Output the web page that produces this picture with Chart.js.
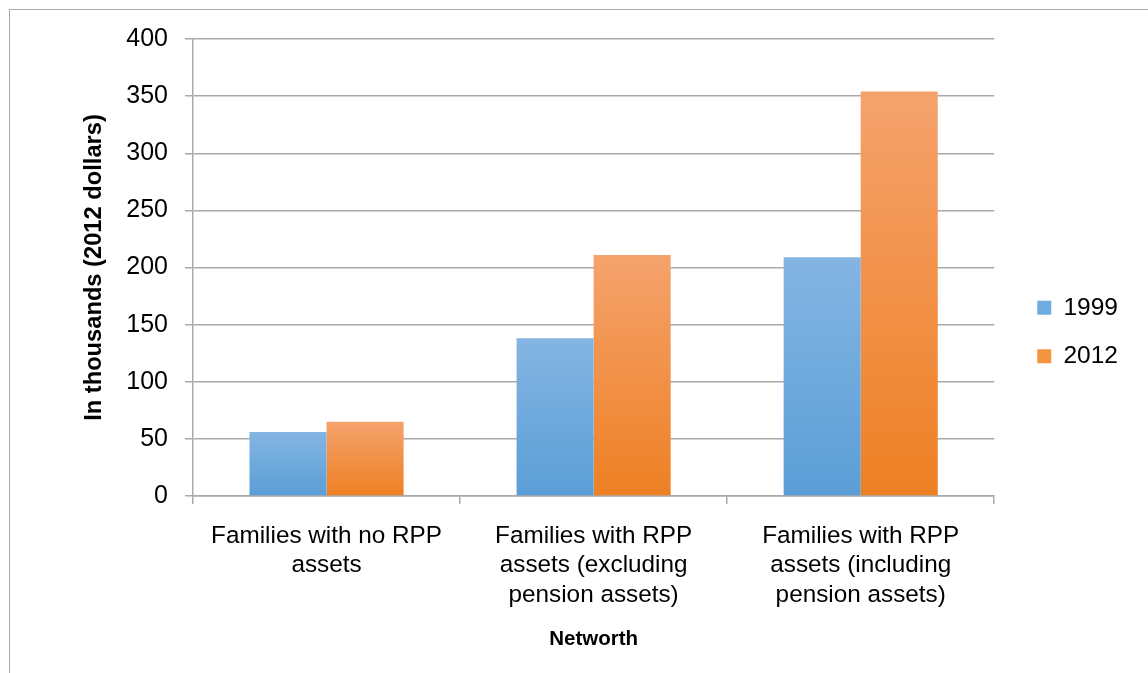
<!DOCTYPE html>
<html>
<head>
<meta charset="utf-8">
<script src="https://cdn.jsdelivr.net/npm/chart.js@4"></script>
<style>
  html, body { margin: 0; padding: 0; background: #fff; }
  #frame {
    position: absolute; left: 9px; top: 9px; width: 1400px; height: 900px;
    border-left: 1px solid #a9a9a9; border-top: 1px solid #a9a9a9;
  }
  #wrap { position: absolute; left: 0; top: 0; width: 1148px; height: 673px; }
</style>
</head>
<body>
<div id="frame"></div>
<div id="wrap"><canvas id="chart" width="1148" height="673"></canvas></div>
<script>
const categories = [
  ["Families with no RPP", "assets"],
  ["Families with RPP", "assets (excluding", "pension assets)"],
  ["Families with RPP", "assets (including", "pension assets)"]
];
const series1999 = [56, 138, 209];
const series2012 = [65, 211, 354];
const yTicks = [0, 50, 100, 150, 200, 250, 300, 350, 400];

const FONT = "'Liberation Sans', Arial, sans-serif";
const GRID = "#aaaaaa";

function barGradient(top, bottom) {
  return (ctx) => {
    const chart = ctx.chart;
    if (!chart.chartArea || ctx.type !== "data") return bottom;
    const y = chart.scales.y;
    const y0 = y.getPixelForValue(ctx.raw);
    const y1 = y.getPixelForValue(0);
    const g = chart.ctx.createLinearGradient(0, y0, 0, y1);
    g.addColorStop(0, top);
    g.addColorStop(1, bottom);
    return g;
  };
}

// nudge the legend into place after layout
const legendShift = {
  id: "legendShift",
  afterLayout(chart) {
    const lg = chart.legend;
    if (!lg) return;
    lg.left += 19; lg.right += 19;
    lg.top -= 24; lg.bottom -= 24;
  }
};

new Chart(document.getElementById("chart"), {
  type: "bar",
  data: {
    labels: categories,
    datasets: [
      {
        label: "1999",
        data: series1999,
        backgroundColor: barGradient("#84b5e3", "#5a9ed6"),
        borderWidth: 0
      },
      {
        label: "2012",
        data: series2012,
        backgroundColor: barGradient("#f5a26d", "#ee8023"),
        borderWidth: 0
      }
    ]
  },
  options: {
    responsive: false,
    animation: false,
    events: [],
    layout: { padding: { top: 39, right: 39, bottom: 0, left: 0 } },
    datasets: { bar: { categoryPercentage: 0.577, barPercentage: 1 } },
    plugins: {
      tooltip: { enabled: false },
      legend: {
        position: "right",
        labels: {
          boxWidth: 14,
          boxHeight: 14,
          padding: 24,
          color: "#000",
          font: { family: FONT, size: 24.5 },
          generateLabels: () => [
            { text: "1999", fillStyle: "#6eace2", strokeStyle: "rgba(0,0,0,0)", lineWidth: 0, datasetIndex: 0 },
            { text: "2012", fillStyle: "#f5943f", strokeStyle: "rgba(0,0,0,0)", lineWidth: 0, datasetIndex: 1 }
          ]
        }
      }
    },
    scales: {
      x: {
        offset: true,
        afterFit: s => { s.height = 177; },
        grid: { drawOnChartArea: false, drawTicks: true, tickLength: 8, color: GRID, lineWidth: 1.5 },
        border: { color: GRID, width: 1.5 },
        ticks: {
          color: "#000",
          padding: 17,
          maxRotation: 0,
          autoSkip: false,
          font: { family: FONT, size: 24.3, lineHeight: 1.22 }
        },
        title: {
          display: true,
          text: "Networth",
          color: "#000",
          font: { family: FONT, size: 20.5, weight: "bold", lineHeight: 1.2 },
          padding: { top: 0, bottom: 21 }
        }
      },
      y: {
        min: 0,
        max: 400,
        afterFit: s => { s.width = 193; },
        afterBuildTicks: s => { s.ticks = yTicks.map(v => ({ value: v })); },
        grid: { color: GRID, lineWidth: 1.5, tickLength: 8 },
        border: { color: GRID, width: 1.5 },
        ticks: {
          color: "#000",
          padding: 17,
          font: { family: FONT, size: 25 }
        },
        title: {
          display: true,
          text: "In thousands (2012 dollars)",
          color: "#000",
          font: { family: FONT, size: 23.7, weight: "bold", lineHeight: 1.2 },
          padding: { top: 80, bottom: 0 }
        }
      }
    }
  },
  plugins: [legendShift]
});
</script>
</body>
</html>
